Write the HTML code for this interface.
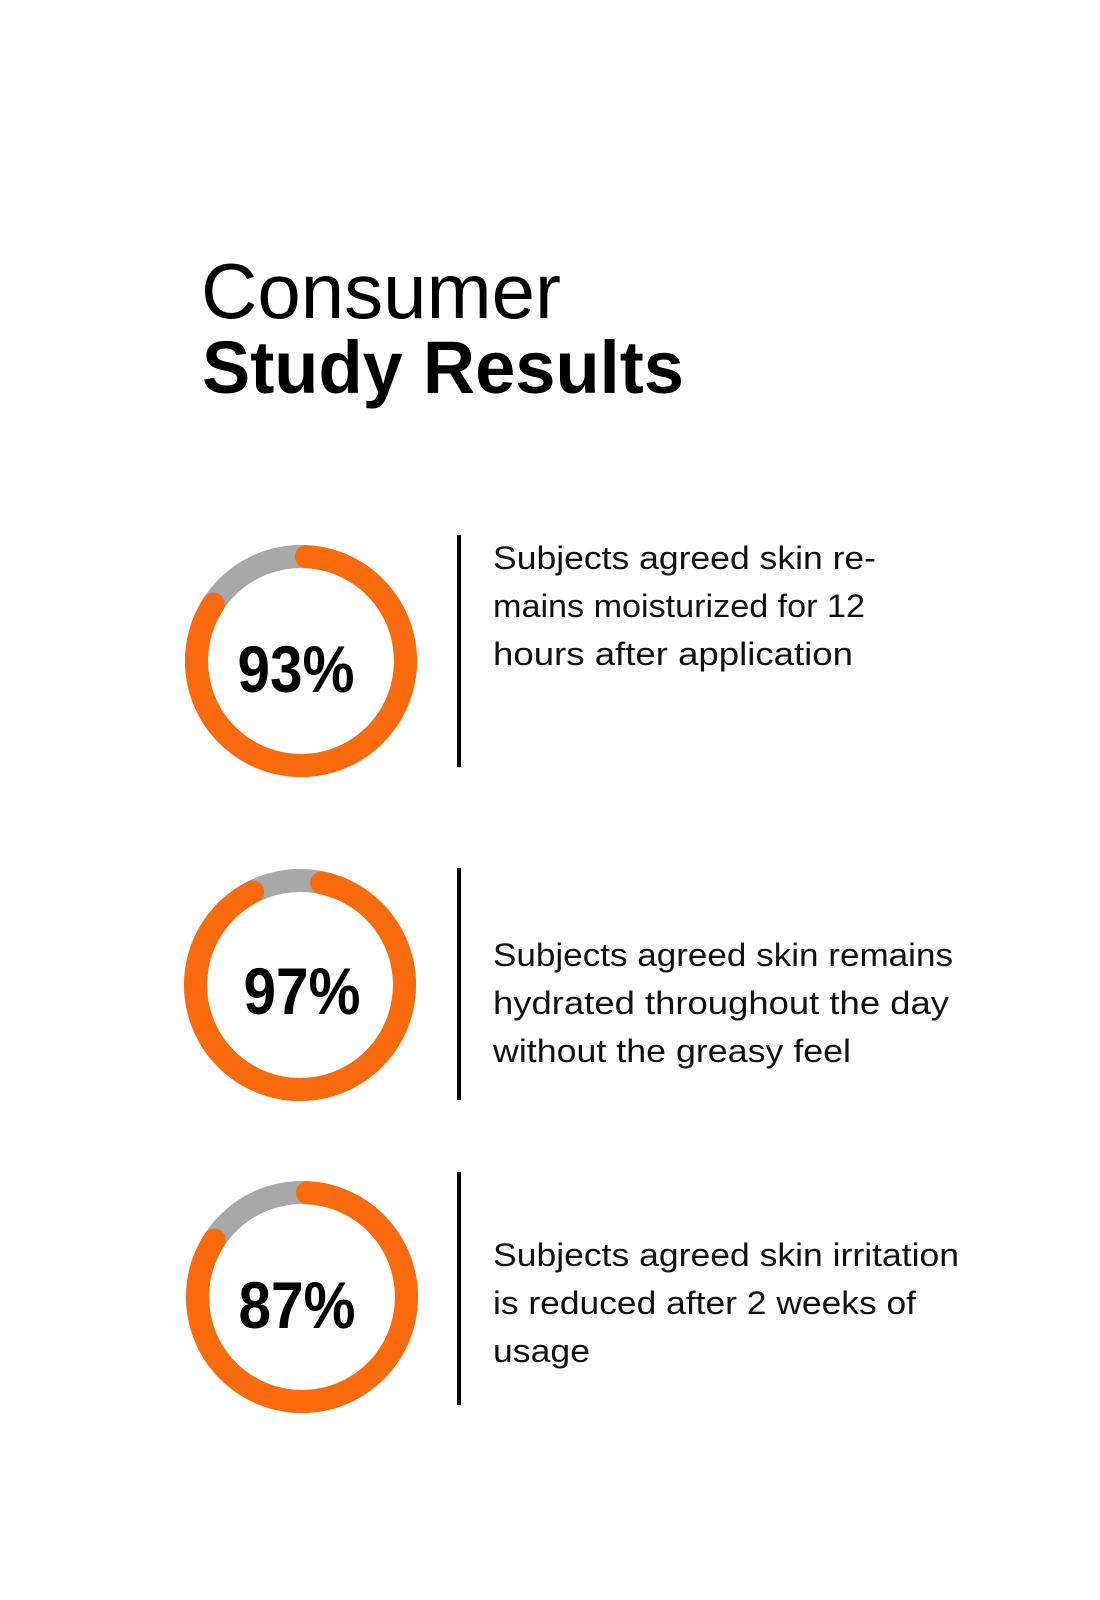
<!DOCTYPE html>
<html><head><meta charset="utf-8"><style>
html,body{margin:0;padding:0;background:#fff}
svg{display:block}
text{font-family:"Liberation Sans",sans-serif}
</style></head><body>
<svg id="s" width="1100" height="1600" viewBox="0 0 1100 1600" xmlns="http://www.w3.org/2000/svg">
<rect width="1100" height="1600" fill="#fff"/>
<text x="201" y="318" font-size="78" font-weight="300" fill="#000" textLength="360" lengthAdjust="spacingAndGlyphs">Consumer</text>
<text x="202" y="393" font-size="74" font-weight="700" fill="#000" textLength="482" lengthAdjust="spacingAndGlyphs">Study Results</text>

<g id="rings"></g>

<text x="296" y="692" font-size="66" font-weight="700" text-anchor="middle" textLength="117" lengthAdjust="spacingAndGlyphs">93%</text>
<text x="302" y="1014" font-size="66" font-weight="700" text-anchor="middle" textLength="117" lengthAdjust="spacingAndGlyphs">97%</text>
<text x="297" y="1328" font-size="66" font-weight="700" text-anchor="middle" textLength="117" lengthAdjust="spacingAndGlyphs">87%</text>

<rect x="457" y="535" width="4" height="232" fill="#000"/>
<rect x="457" y="868" width="4" height="232" fill="#000"/>
<rect x="457" y="1172" width="4" height="233" fill="#000"/>

<g font-size="32" fill="#111" lengthAdjust="spacingAndGlyphs">
<text x="493" y="569" textLength="383" lengthAdjust="spacingAndGlyphs">Subjects agreed skin re-</text>
<text x="493" y="617" textLength="372" lengthAdjust="spacingAndGlyphs">mains moisturized for 12</text>
<text x="493" y="665" textLength="360" lengthAdjust="spacingAndGlyphs">hours after application</text>
<text x="493" y="966" textLength="460" lengthAdjust="spacingAndGlyphs">Subjects agreed skin remains</text>
<text x="493" y="1014" textLength="456" lengthAdjust="spacingAndGlyphs">hydrated throughout the day</text>
<text x="493" y="1062" textLength="358" lengthAdjust="spacingAndGlyphs">without the greasy feel</text>
<text x="493" y="1266" textLength="466" lengthAdjust="spacingAndGlyphs">Subjects agreed skin irritation</text>
<text x="493" y="1314" textLength="423" lengthAdjust="spacingAndGlyphs">is reduced after 2 weeks of</text>
<text x="493" y="1362" textLength="97" lengthAdjust="spacingAndGlyphs">usage</text>
</g>
</svg>
<script>
(function(){
var g=document.getElementById('rings'),NS='http://www.w3.org/2000/svg';
function pt(cx,cy,r,a){a=a*Math.PI/180;return [cx+r*Math.sin(a),cy-r*Math.cos(a)];}
function ring(cx,cy,a0,a1){
 var r=104.5;
 var c=document.createElementNS(NS,'circle');
 c.setAttribute('cx',cx);c.setAttribute('cy',cy);c.setAttribute('r',r);
 c.setAttribute('fill','none');c.setAttribute('stroke','#a8a8a8');c.setAttribute('stroke-width','23');
 g.appendChild(c);
 var p0=pt(cx,cy,r,a0),p1=pt(cx,cy,r,a1);
 var large=(a1-a0)>180?1:0;
 var p=document.createElementNS(NS,'path');
 p.setAttribute('d','M'+p0[0]+' '+p0[1]+' A'+r+' '+r+' 0 '+large+' 1 '+p1[0]+' '+p1[1]);
 p.setAttribute('fill','none');p.setAttribute('stroke','#f96b0c');p.setAttribute('stroke-width','23');p.setAttribute('stroke-linecap','round');
 g.appendChild(p);
}
ring(301,661,3,303);
ring(300,985,12,333);
ring(302,1297,3,303);
})();
</script>
</body></html>
